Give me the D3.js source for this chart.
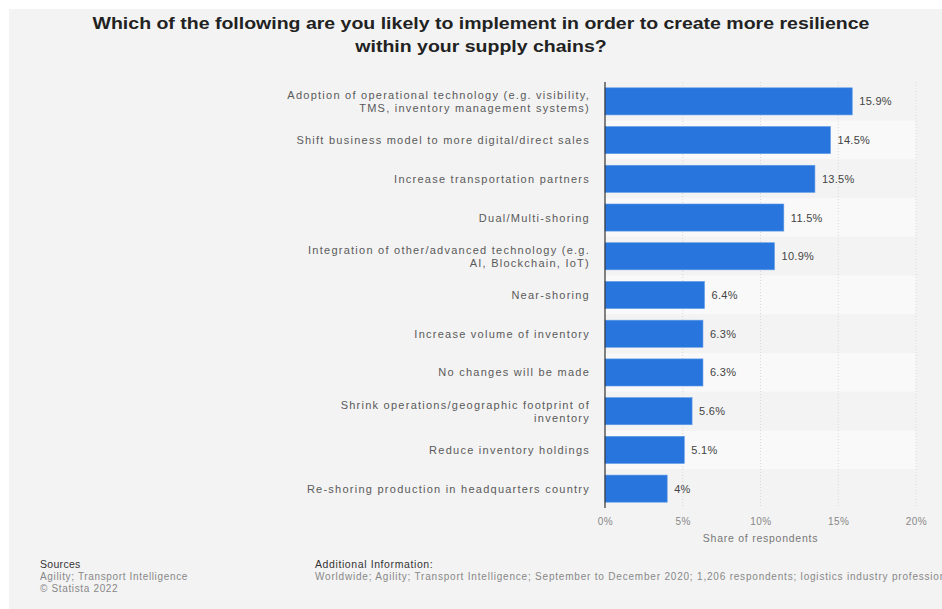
<!DOCTYPE html>
<html><head><meta charset="utf-8">
<script src="https://cdn.jsdelivr.net/npm/d3@7"></script>
<style>
body{margin:0;background:#fff;}
svg{display:block;font-family:"Liberation Sans",Arial,sans-serif;}
</style></head>
<body>
<svg id="c" width="942" height="609"></svg>
<script>
const categories = [
  "Adoption of operational technology (e.g. visibility,|TMS, inventory management systems)",
  "Shift business model to more digital/direct sales",
  "Increase transportation partners",
  "Dual/Multi-shoring",
  "Integration of other/advanced technology (e.g.|AI, Blockchain, IoT)",
  "Near-shoring",
  "Increase volume of inventory",
  "No changes will be made",
  "Shrink operations/geographic footprint of|inventory",
  "Reduce inventory holdings",
  "Re-shoring production in headquarters country"
];
const values = [15.9, 14.5, 13.5, 11.5, 10.9, 6.4, 6.3, 6.3, 5.6, 5.1, 4];
const valueLabels = ["15.9%","14.5%","13.5%","11.5%","10.9%","6.4%","6.3%","6.3%","5.6%","5.1%","4%"];
const ticks = [0, 5, 10, 15, 20];
const titleLines = ["Which of the following are you likely to implement in order to create more resilience","within your supply chains?"];

const svg = d3.select("#c");
svg.append("rect").attr("x",9).attr("y",9).attr("width",933).attr("height",600).attr("fill","#f3f3f3");

svg.append("g").attr("transform","translate(481,0) scale(1.22,1)")
  .selectAll("text").data(titleLines).join("text")
  .attr("x",0).attr("y",(d,i)=>29+i*23).attr("text-anchor","middle")
  .attr("font-size",16).attr("font-weight","bold").attr("fill","#222").text(d=>d);

const x = d3.scaleLinear().domain([0,20]).range([605,916]);
const y = d3.scaleBand().domain(d3.range(categories.length)).range([82,508]).paddingInner(0.3).paddingOuter(0.15);
const step = y.step();

// stripes
svg.append("g").selectAll("rect").data(d3.range(categories.length)).join("rect")
  .attr("x",x(0)).attr("width",x(20)-x(0))
  .attr("y",i=>82+i*step).attr("height",step)
  .attr("fill",i=>i%2===1?"#f9f9f9":"#f3f3f3");

// grid
svg.append("g").selectAll("line").data(ticks.slice(1)).join("line")
  .attr("x1",d=>x(d)).attr("x2",d=>x(d)).attr("y1",82).attr("y2",508)
  .attr("stroke","#d8d8d8").attr("stroke-dasharray","1,2");

// bars
svg.append("g").selectAll("rect").data(values).join("rect")
  .attr("x",x(0)).attr("y",(d,i)=>y(i)).attr("height",y.bandwidth())
  .attr("width",d=>x(d)-x(0)).attr("fill","#2876dd").attr("stroke","#5e9be8").attr("stroke-width",0.6);

// value labels
svg.append("g").selectAll("text").data(values).join("text")
  .attr("x",d=>x(d)+7).attr("y",(d,i)=>y(i)+y.bandwidth()/2+4)
  .attr("font-size",11).attr("letter-spacing",0.3).attr("fill","#444").text((d,i)=>valueLabels[i]);

// category labels
const cl = svg.append("g").selectAll("text").data(categories).join("text")
  .attr("text-anchor","end").attr("font-size",11).attr("letter-spacing",1.25).attr("fill","#5a5a5a");
cl.each(function(d,i){
  const lines = d.split("|");
  const cy = y(i)+y.bandwidth()/2;
  const t = d3.select(this);
  lines.forEach((l,j)=>{
    t.append("tspan").attr("x",590).attr("y",cy+4+(j-(lines.length-1)/2)*13).text(l);
  });
});

// axis line
svg.append("line").attr("x1",x(0)).attr("x2",x(0)).attr("y1",82).attr("y2",508).attr("stroke","#333").attr("stroke-width",1.2);

// x axis
const ax = svg.append("g").attr("transform","translate(0,508)")
  .call(d3.axisBottom(x).tickValues(ticks).tickFormat(d=>d+"%").tickSize(0).tickPadding(10));
ax.select(".domain").remove();
ax.selectAll("text").attr("font-size",10).attr("letter-spacing",0.5).attr("fill","#888").attr("font-family","Liberation Sans, Arial, sans-serif");

svg.append("text").attr("x",x(10)).attr("y",542).attr("text-anchor","middle")
  .attr("font-size",10.5).attr("letter-spacing",0.75).attr("fill","#777").text("Share of respondents");

// footer
const f = svg.append("g").attr("font-family","'Liberation Sans Narrow','Liberation Sans',Arial,sans-serif");
f.append("text").attr("x",40).attr("y",568).attr("font-size",10.5).attr("letter-spacing",0.3).attr("fill","#333").text("Sources");
f.append("text").attr("x",40).attr("y",580).attr("font-size",10).attr("letter-spacing",0.65).attr("fill","#888").text("Agility; Transport Intelligence");
f.append("text").attr("x",40).attr("y",592).attr("font-size",10).attr("letter-spacing",0.65).attr("fill","#888").text("© Statista 2022");
f.append("text").attr("x",315).attr("y",568).attr("font-size",10.5).attr("letter-spacing",0.6).attr("fill","#333").text("Additional Information:");
f.append("text").attr("x",315).attr("y",580).attr("font-size",10).attr("letter-spacing",0.8).attr("fill","#888").text("Worldwide; Agility; Transport Intelligence; September to December 2020; 1,206 respondents; logistics industry professionals");
</script>
</body></html>
